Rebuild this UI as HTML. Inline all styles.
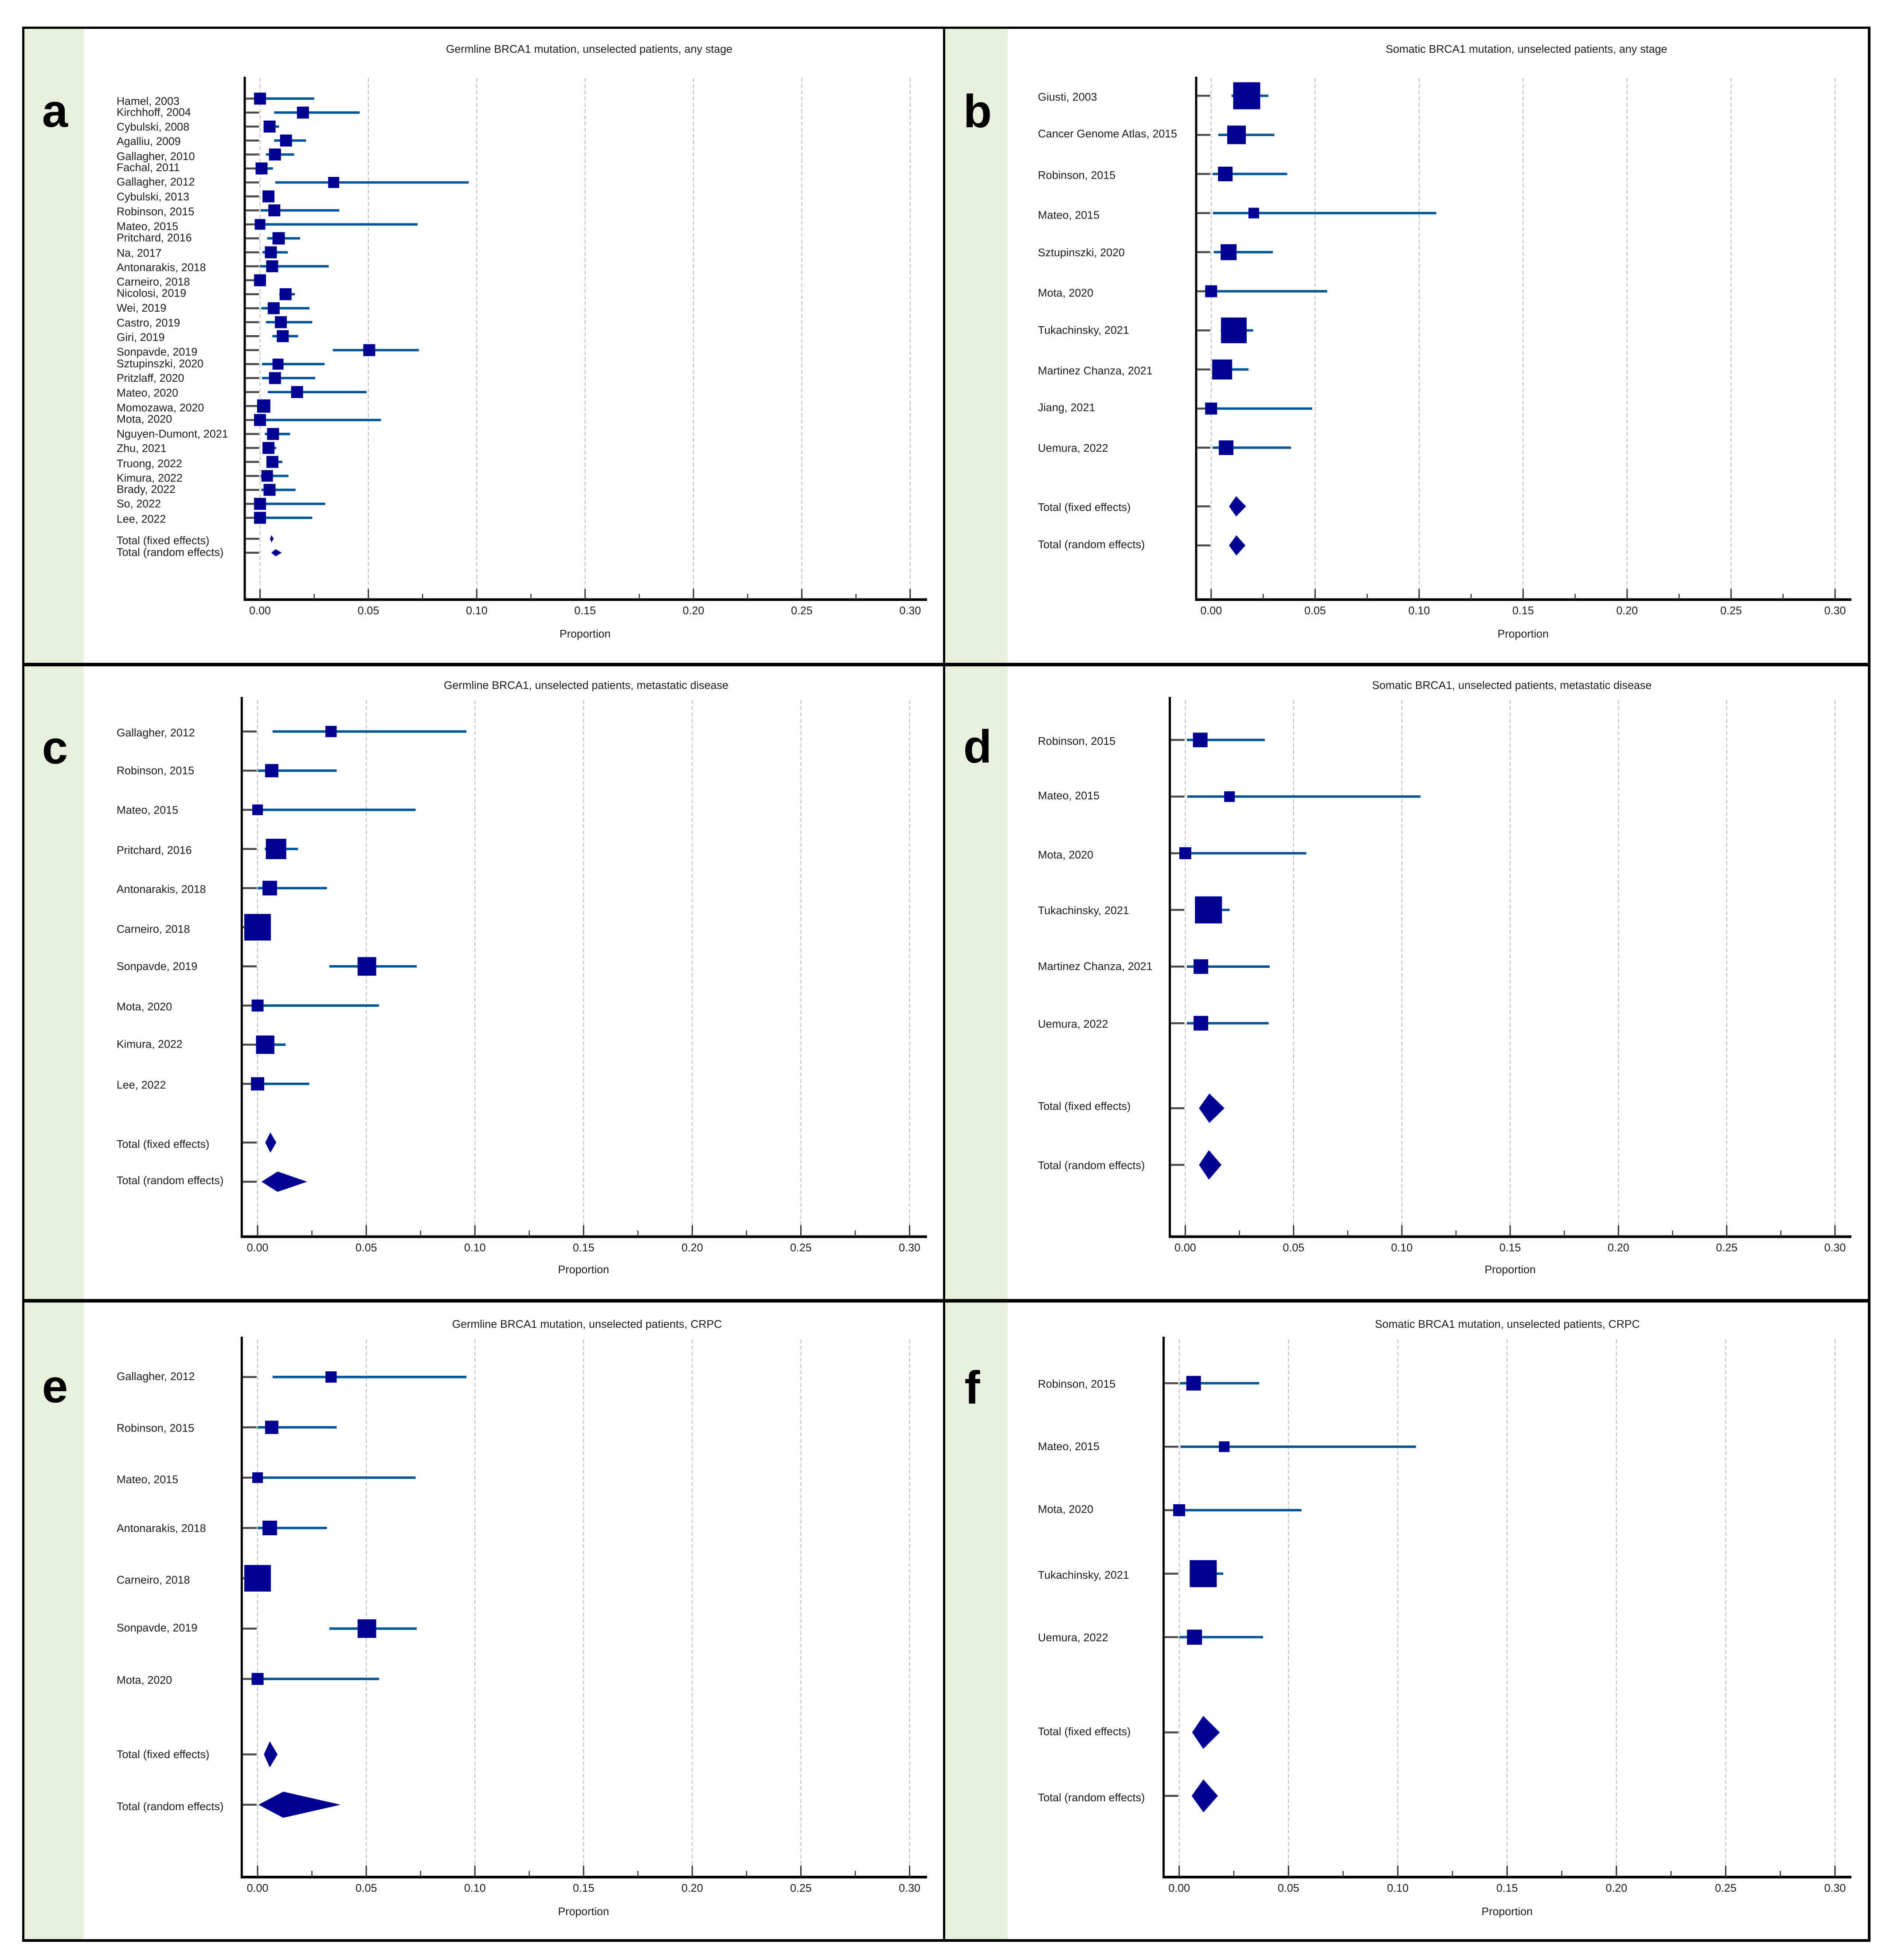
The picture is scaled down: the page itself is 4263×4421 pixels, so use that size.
<!DOCTYPE html>
<html lang="en">
<head>
<meta charset="utf-8">
<title>BRCA1 mutation prevalence forest plots</title>
<style>
html,body{margin:0;padding:0;background:#fff;width:4263px;height:4421px;overflow:hidden}
svg{display:block}
text{font-family:"Liberation Sans",Arial,sans-serif;fill:#1c1c1c;text-rendering:geometricPrecision}
.lbl{font-size:25px}
.letter{font-size:105px;font-weight:bold;fill:#000;text-anchor:middle}
.title{font-size:25px;text-anchor:middle}
</style>
</head>
<body>
<svg id="figure" xmlns="http://www.w3.org/2000/svg" width="4263" height="4421" viewBox="0 0 4263 4421">
  <rect x="0" y="0" width="4263" height="4421" fill="#ffffff"/>
  <rect x="55" y="62" width="134" height="4316" fill="#e6f0dc"/>
  <rect x="2132" y="62" width="141" height="4316" fill="#e6f0dc"/>
  <g id="plots"></g>
  <g fill="#000">
    <rect x="50" y="60" width="4169" height="5"/>
    <rect x="50" y="60" width="5" height="4320"/>
    <rect x="4213" y="60" width="6" height="4320"/>
    <rect x="50" y="4374" width="4169" height="6"/>
    <rect x="2127" y="60" width="5" height="4320"/>
    <rect x="50" y="1495" width="4169" height="8"/>
    <rect x="50" y="2930" width="4169" height="8"/>
  </g>
  <text class="letter" x="124" y="286">a</text>
  <text class="letter" x="2205" y="287">b</text>
  <text class="letter" x="124" y="1722">c</text>
  <text class="letter" x="2205" y="1720">d</text>
  <text class="letter" x="124" y="3163">e</text>
  <text class="letter" x="2193" y="3166">f</text>
  <text class="title" x="1329" y="119">Germline BRCA1 mutation, unselected patients, any stage</text>
  <text class="title" x="3443" y="119">Somatic BRCA1 mutation, unselected patients, any stage</text>
  <text class="title" x="1322" y="1554">Germline BRCA1, unselected patients, metastatic disease</text>
  <text class="title" x="3410" y="1554">Somatic BRCA1, unselected patients, metastatic disease</text>
  <text class="title" x="1324" y="2995">Germline BRCA1 mutation, unselected patients, CRPC</text>
  <text class="title" x="3400" y="2995">Somatic BRCA1 mutation, unselected patients, CRPC</text>
</svg>
<script>
// Shared axis values
const xMajorTicks = [0, 0.05, 0.10, 0.15, 0.20, 0.25, 0.30];
const xMinorTicks = [0.025, 0.075, 0.125, 0.175, 0.225, 0.275];
const xTickLabels = ['0.00', '0.05', '0.10', '0.15', '0.20', '0.25', '0.30'];
const xAxisTitle = 'Proportion';
const totalLabels = ['Total (fixed effects)', 'Total (random effects)'];

// Panel a: germline, any stage
const aStudies = ['Hamel, 2003','Kirchhoff, 2004','Cybulski, 2008','Agalliu, 2009','Gallagher, 2010','Fachal, 2011','Gallagher, 2012','Cybulski, 2013','Robinson, 2015','Mateo, 2015','Pritchard, 2016','Na, 2017','Antonarakis, 2018','Carneiro, 2018','Nicolosi, 2019','Wei, 2019','Castro, 2019','Giri, 2019','Sonpavde, 2019','Sztupinszki, 2020','Pritzlaff, 2020','Mateo, 2020','Momozawa, 2020','Mota, 2020','Nguyen-Dumont, 2021','Zhu, 2021','Truong, 2022','Kimura, 2022','Brady, 2022','So, 2022','Lee, 2022'];
const aEstimate = [0,0.0198,0.0044,0.012,0.0069,0.0007,0.034,0.0039,0.0066,0,0.0086,0.005,0.0056,0,0.0118,0.0063,0.0096,0.0105,0.0504,0.0083,0.0069,0.0171,0.0017,0,0.006,0.0039,0.0057,0.0033,0.0044,0,0];
const aLower = [0,0.0065,0.002,0.0065,0.0027,0,0.007,0.002,0.0003,0,0.0033,0.0011,0,0,0.0089,0.0006,0.0027,0.0057,0.0336,0.0009,0.0009,0.0036,0.0003,0,0.0022,0.0012,0.0031,0.0003,0.0006,0,0];
const aUpper = [0.025,0.046,0.0088,0.0212,0.0158,0.006,0.0963,0.0063,0.0366,0.0727,0.0185,0.0128,0.0317,0.002,0.0161,0.0228,0.0241,0.0176,0.0733,0.0298,0.0255,0.0492,0.0034,0.0558,0.0139,0.0075,0.0103,0.0131,0.0164,0.0301,0.0241];
const aWeight = [7.3,7.3,7.3,7.3,7.3,7.3,6.25,7.3,7.3,5.8,7.8,7.3,7.3,7.3,7.3,7.3,7.3,7.3,7.3,6.25,7.3,7.3,9,7.3,7.3,7.3,7.3,6.8,7.3,7.3,7.3];
const aPooled = [0.0053, 0.0072];
const aPooledLower = [0.0046, 0.0052];
const aPooledUpper = [0.0063, 0.01];

// Panel b: somatic, any stage
const bStudies = ['Giusti, 2003','Cancer Genome Atlas, 2015','Robinson, 2015','Mateo, 2015','Sztupinszki, 2020','Mota, 2020','Tukachinsky, 2021','Martinez Chanza, 2021','Jiang, 2021','Uemura, 2022'];
const bEstimate = [0.0171,0.0122,0.0068,0.0205,0.0084,0,0.0109,0.0053,0,0.0072];
const bLower = [0.0098,0.0034,0.0007,0.0008,0.0012,0,0.0046,0.0005,0,0.0007];
const bUpper = [0.0275,0.0304,0.0366,0.1083,0.0297,0.0558,0.0202,0.018,0.0486,0.0384];
const bWeight = [37.2,17.6,10.9,5.8,13,7.3,33.6,20.3,7.3,10.9];
const bPooled = [0.012, 0.0121];
const bPooledLower = [0.0086, 0.0086];
const bPooledUpper = [0.0168, 0.0165];

// Panel c: germline, metastatic
const cStudies = ['Gallagher, 2012','Robinson, 2015','Mateo, 2015','Pritchard, 2016','Antonarakis, 2018','Carneiro, 2018','Sonpavde, 2019','Mota, 2020','Kimura, 2022','Lee, 2022'];
const cEstimate = [0.0338,0.0065,0,0.0085,0.0056,0,0.0503,0,0.0035,0];
const cLower = [0.0069,0.0001,0,0.0033,0,0,0.033,0,0.0001,0];
const cUpper = [0.0961,0.0364,0.0727,0.0186,0.0319,0.002,0.0732,0.0559,0.0129,0.0238];
const cWeight = [6.5,9,5.8,21.2,10.9,36,17.6,7.3,17.2,9];
const cPooled = [0.0059, 0.0092];
const cPooledLower = [0.0035, 0.0018];
const cPooledUpper = [0.0086, 0.0228];

// Panel d: somatic, metastatic
const dStudies = ['Robinson, 2015','Mateo, 2015','Mota, 2020','Tukachinsky, 2021','Martinez Chanza, 2021','Uemura, 2022'];
const dEstimate = [0.0069,0.0204,0,0.0107,0.0072,0.0072];
const dLower = [0.0007,0.0009,0,0.0046,0.0007,0.0007];
const dUpper = [0.0367,0.1086,0.0559,0.0205,0.039,0.0385];
const dWeight = [10.9,5.8,7.3,37.2,10.9,10.9];
const dPooled = [0.0111, 0.0109];
const dPooledLower = [0.0063, 0.0063];
const dPooledUpper = [0.0181, 0.0167];

// Panel e: germline, CRPC
const eStudies = ['Gallagher, 2012','Robinson, 2015','Mateo, 2015','Antonarakis, 2018','Carneiro, 2018','Sonpavde, 2019','Mota, 2020'];
const eEstimate = [0.0338,0.0065,0,0.0056,0,0.0503,0];
const eLower = [0.0069,0.0001,0,0,0,0.033,0];
const eUpper = [0.0961,0.0364,0.0727,0.0319,0.002,0.0732,0.0559];
const eWeight = [6.5,9,5.8,10.9,36,17.6,7.3];
const ePooled = [0.0056, 0.0118];
const ePooledLower = [0.0029, 0.0004];
const ePooledUpper = [0.0092, 0.0382];

// Panel f: somatic, CRPC
const fStudies = ['Robinson, 2015','Mateo, 2015','Mota, 2020','Tukachinsky, 2021','Uemura, 2022'];
const fEstimate = [0.0066,0.0206,0,0.011,0.007];
const fLower = [0.0003,0.0006,0,0.0049,0.0001];
const fUpper = [0.0366,0.1083,0.056,0.0202,0.0384];
const fWeight = [10.9,5.8,7.3,37.2,11.6];
const fPooled = [0.011, 0.0111];
const fPooledLower = [0.0059, 0.0057];
const fPooledUpper = [0.0186, 0.0177];

// Panel layout (geometry only; values come from the arrays above).
// labelShift holds the small vertical text offsets the source plot's text rounding produced.
const panels = [
  {studies:aStudies,est:aEstimate,lo:aLower,hi:aUpper,wt:aWeight,pool:aPooled,poolLo:aPooledLower,poolHi:aPooledUpper,
   axisX:552,zeroX:586.5,unit:4888,firstRow:222.4,rowStep:31.52,top:173,gridTop:176,base:1352.5,labelX:263,majorLen:24,minorLen:13,titleY:1438,right:2091,
   labelShift:[5,-1.5,0,1,3.5,-3,-2,0,2,3.7,-2.3,1,2,3,-3,-1,1,2,3,-2,-1,1,3,-3,-1,0,3,4,-2,-1,2,3,-2]},
  {studies:bStudies,est:bEstimate,lo:bLower,hi:bUpper,wt:bWeight,pool:bPooled,poolLo:bPooledLower,poolHi:bPooledUpper,
   axisX:2698,zeroX:2731.8,unit:4691,firstRow:216,rowStep:88.2,top:173,gridTop:176,base:1352.5,labelX:2341,majorLen:24,minorLen:13,titleY:1438,right:4176,
   labelShift:[2,-3,2,4,0,3,-1,2,-3,0,1.5,-3]},
  {studies:cStudies,est:cEstimate,lo:cLower,hi:cUpper,wt:cWeight,pool:cPooled,poolLo:cPooledLower,poolHi:cPooledUpper,
   axisX:545.3,zeroX:581,unit:4902,firstRow:1650,rowStep:88.3,top:1572,gridTop:1579,base:2789.5,labelX:263,majorLen:26,minorLen:14,titleY:2872,right:2091,
   labelShift:[2,-1,0,2,2,3.5,-1,2,-2,2,3,-3.5]},
  {studies:dStudies,est:dEstimate,lo:dLower,hi:dUpper,wt:dWeight,pool:dPooled,poolLo:dPooledLower,poolHi:dPooledUpper,
   axisX:2638.6,zeroX:2673.5,unit:4885,firstRow:1669,rowStep:127.8,top:1572,gridTop:1579,base:2789.5,labelX:2341,majorLen:26,minorLen:14,titleY:2872,right:4176,
   labelShift:[2,-3,3,0.5,-1,1,-5,0.5]},
  {studies:eStudies,est:eEstimate,lo:eLower,hi:eUpper,wt:eWeight,pool:ePooled,poolLo:ePooledLower,poolHi:ePooledUpper,
   axisX:545.3,zeroX:581,unit:4902,firstRow:3106,rowStep:113.5,top:3015,gridTop:3021,base:4234,labelX:263,majorLen:26,minorLen:14,titleY:4320,right:2091,
   labelShift:[-2,1,3.5,0,3,-2.5,2,-1,3]},
  {studies:fStudies,est:fEstimate,lo:fLower,hi:fUpper,wt:fWeight,pool:fPooled,poolLo:fPooledLower,poolHi:fPooledUpper,
   axisX:2624.6,zeroX:2659.7,unit:4931,firstRow:3120,rowStep:143.2,top:3015,gridTop:3021,base:4234,labelX:2341,majorLen:26,minorLen:14,titleY:4320,right:4176,
   labelShift:[1,-1,-3,2.5,0,-2.5,3]}
];

const SVG_NS = 'http://www.w3.org/2000/svg';
const COLOR_SQUARE = '#000092';
const COLOR_CI = '#00559a';
const COLOR_ROWTICK = '#4a4a4a';
const COLOR_AXIS = '#000000';
const COLOR_TICK = '#333333';
const COLOR_GRID = '#bcbcbc';

function make(tag, parent, attrs, text) {
  const el = document.createElementNS(SVG_NS, tag);
  for (const k in attrs) el.setAttribute(k, attrs[k]);
  if (text !== undefined) el.textContent = text;
  parent.appendChild(el);
  return el;
}
function xScale(p, v) { return p.zeroX + v * p.unit; }
function yRow(p, r) { return p.firstRow + r * p.rowStep; }

function drawPanel(p, root) {
  const g = make('g', root, {});
  
  

  // gridlines
  xMajorTicks.forEach(function (v) {
    const grid = make('line', g, {x1:xScale(p,v),x2:xScale(p,v),y1:p.gridTop,y2:p.base-p.majorLen,stroke:COLOR_GRID,'stroke-width':2,'stroke-dasharray':'9 5'});
    
    
  });

  // axes
  const yAxis = make('rect', g, {x:p.axisX-2.5,y:p.top,width:5,height:p.base-p.top,fill:COLOR_AXIS});
  
  
  const xAxis = make('rect', g, {x:p.axisX-2.5,y:p.base-3,width:p.right-p.axisX+2.5,height:6,fill:COLOR_AXIS});
  
  

  // x ticks
  xMajorTicks.forEach(function (v, i) {
    const tick = make('line', g, {x1:xScale(p,v),x2:xScale(p,v),y1:p.base-p.majorLen,y2:p.base,stroke:COLOR_TICK,'stroke-width':3});
    
    
    const lab = make('text', g, {class:'lbl',x:xScale(p,v),y:p.base+33,'text-anchor':'middle'}, xTickLabels[i]);
    
    
  });
  xMinorTicks.forEach(function (v) {
    const tick = make('line', g, {x1:xScale(p,v),x2:xScale(p,v),y1:p.base-p.minorLen,y2:p.base,stroke:COLOR_TICK,'stroke-width':2.5});
    
    
  });
  const axTitle = make('text', g, {class:'lbl',x:xScale(p,0.15),y:p.titleY,'text-anchor':'middle'}, xAxisTitle);
  
  

  function rowFurniture(y, label, shift) {
    const rt = make('line', g, {x1:p.axisX+2,x2:p.zeroX-2,y1:y,y2:y,stroke:COLOR_ROWTICK,'stroke-width':4.5});
    
    
    const t = make('text', g, {class:'lbl',x:p.labelX,y:y+9+shift}, label);
    
    
  }

  // studies
  p.studies.forEach(function (name, i) {
    const y = yRow(p, i);
    rowFurniture(y, name, p.labelShift[i]);
    const ci = make('line', g, {x1:xScale(p,p.lo[i]),x2:xScale(p,p.hi[i]),y1:y,y2:y,stroke:COLOR_CI,'stroke-width':5.5});
    
    
    const side = 10 * Math.sqrt(p.wt[i]);
    const sq = make('rect', g, {x:xScale(p,p.est[i])-side/2,y:y-side/2,width:side,height:side,fill:COLOR_SQUARE});
    
    
  });

  // pooled totals
  p.pool.forEach(function (v, j) {
    const r = p.studies.length - 1 + 1.5 + j;
    const y = yRow(p, r);
    rowFurniture(y, totalLabels[j], p.labelShift[p.studies.length + j]);
    const h = p.rowStep * 0.26;
    const pts = [
      [xScale(p,p.poolLo[j]), y],
      [xScale(p,v), y-h],
      [xScale(p,p.poolHi[j]), y],
      [xScale(p,v), y+h]
    ].map(function (c) { return c[0] + ',' + c[1]; }).join(' ');
    const d = make('polygon', g, {points:pts,fill:COLOR_SQUARE});
    
    
  });
}

const plotRoot = document.getElementById('plots');
panels.forEach(function (p) { drawPanel(p, plotRoot); });
</script>
</body>
</html>
